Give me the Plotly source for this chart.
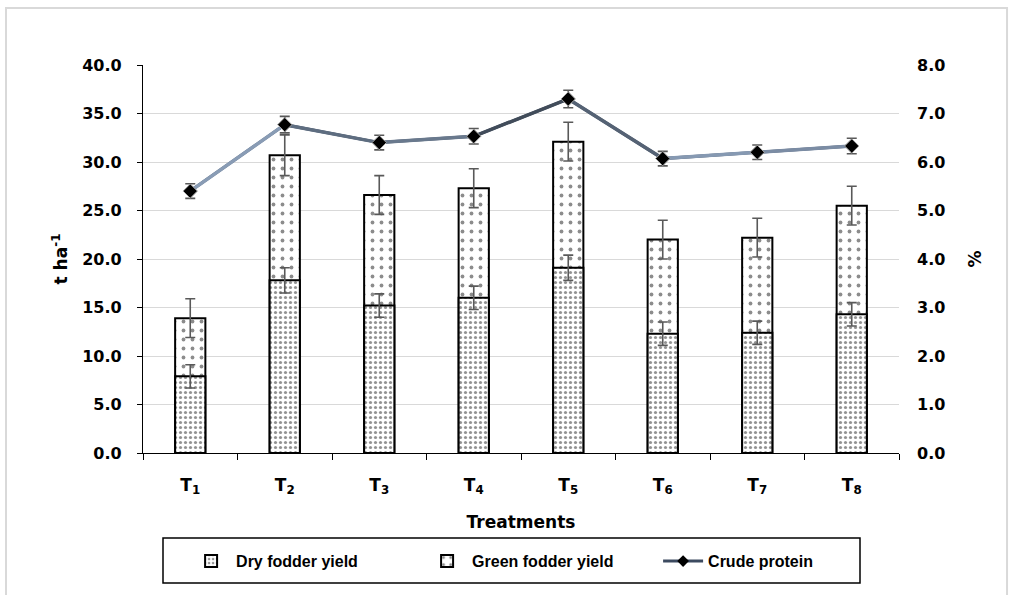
import plotly.graph_objects as go

treatments = ["T1", "T2", "T3", "T4", "T5", "T6", "T7", "T8"]
tick_labels = ["T<sub>1</sub>", "T<sub>2</sub>", "T<sub>3</sub>", "T<sub>4</sub>",
               "T<sub>5</sub>", "T<sub>6</sub>", "T<sub>7</sub>", "T<sub>8</sub>"]
green_fodder = [13.9, 30.7, 26.6, 27.3, 32.1, 22.0, 22.2, 25.5]
green_err = [2.0, 2.1, 2.0, 2.0, 2.0, 2.0, 2.0, 2.0]
dry_fodder = [7.9, 17.8, 15.2, 16.0, 19.1, 12.3, 12.4, 14.3]
dry_err = [1.2, 1.3, 1.2, 1.2, 1.3, 1.2, 1.2, 1.2]
crude_protein = [5.40, 6.77, 6.40, 6.53, 7.30, 6.07, 6.20, 6.33]
crude_err = [0.15, 0.17, 0.15, 0.16, 0.18, 0.15, 0.15, 0.16]

ARIAL = "Liberation Sans, Arial, sans-serif"
WIDE = "DejaVu Sans, Verdana, sans-serif"


def hex2rgb(h):
    h = h.lstrip("#")
    return [int(h[i:i + 2], 16) for i in (0, 2, 4)]


def lerp(c1, c2, t):
    a, b = hex2rgb(c1), hex2rgb(c2)
    return "rgb({},{},{})".format(*[round(a[i] + (b[i] - a[i]) * t) for i in range(3)])


def grad_color(v):
    lo, hi = min(crude_protein), max(crude_protein)
    t = (v - lo) / (hi - lo)
    if t < 0.4:
        return lerp("#b4c7e7", "#8497b0", t / 0.4)
    return lerp("#8497b0", "#1f252e", (t - 0.4) / 0.6)


fig = go.Figure()

fig.add_trace(go.Bar(
    x=treatments, y=green_fodder, name="Green fodder yield",
    marker=dict(color="white", line=dict(color="black", width=2),
                pattern=dict(shape=".", size=9, solidity=0.14, fgcolor="#1a1a1a", bgcolor="white")),
    error_y=dict(type="data", array=green_err, color="#595959", thickness=1.6, width=5),
    width=0.32, legendrank=2,
))
fig.add_trace(go.Bar(
    x=treatments, y=dry_fodder, name="Dry fodder yield",
    marker=dict(color="white", line=dict(color="black", width=2),
                pattern=dict(shape=".", size=5, solidity=0.32, fgcolor="#262626", bgcolor="white")),
    error_y=dict(type="data", array=dry_err, color="#595959", thickness=1.6, width=5),
    width=0.32, legendrank=1,
))

fig.add_trace(go.Scatter(
    x=treatments, y=crude_protein, yaxis="y2", name="Crude protein",
    mode="lines+markers", line=dict(color="#3c4a60", width=3),
    marker=dict(symbol="diamond", size=9, color="black"),
    legendrank=3,
))
for i in range(len(treatments) - 1):
    seg_x = treatments[i:i + 2]
    seg_y = crude_protein[i:i + 2]
    fig.add_trace(go.Scatter(
        x=seg_x, y=seg_y, yaxis="y2", mode="lines",
        line=dict(color=grad_color(sum(seg_y) / 2), width=3.5),
        showlegend=False, hoverinfo="skip",
    ))
fig.add_trace(go.Scatter(
    x=treatments, y=crude_protein, yaxis="y2", mode="markers",
    marker=dict(symbol="diamond", size=11, color="black", line=dict(color="#a6a6a6", width=1)),
    error_y=dict(type="data", array=crude_err, color="#595959", thickness=1.6, width=5),
    showlegend=False,
))

tickfont = dict(family=WIDE, size=16, color="black", weight="bold")

fig.update_layout(
    width=1014, height=595,
    margin=dict(l=143, r=115, t=65, b=142),
    paper_bgcolor="white", plot_bgcolor="white",
    barmode="overlay",
    font=dict(family=ARIAL, color="black"),
    xaxis=dict(
        type="category", tickvals=treatments, ticktext=tick_labels,
        tickson="boundaries", ticks="outside", ticklen=6, tickcolor="black",
        showline=True, linecolor="black", linewidth=1.2,
        tickfont=dict(family=WIDE, size=17, color="black", weight="bold"),
        ticklabelstandoff=16,
        title=dict(text="Treatments", font=dict(family=WIDE, size=17, color="black", weight="bold"),
                   standoff=20),
        showgrid=False,
    ),
    yaxis=dict(
        range=[0, 40], dtick=5, tickformat=".1f",
        showgrid=True, gridcolor="#d9d9d9", gridwidth=1.2,
        showline=True, linecolor="black", linewidth=1.2,
        ticks="outside", ticklen=5, tickcolor="black",
        tickfont=tickfont, zeroline=False, ticklabelstandoff=12,
        title=dict(text="t ha<sup>-1</sup>", font=dict(family=WIDE, size=17, color="black", weight="bold"),
                   standoff=10),
    ),
    yaxis2=dict(
        overlaying="y", side="right", range=[0, 8], dtick=1, tickformat=".1f",
        showgrid=False, showline=False, zeroline=False, ticks="",
        tickfont=tickfont, ticklabelstandoff=17,
        title=dict(text="%", font=dict(family=WIDE, size=17, color="black", weight="bold"),
                   standoff=24),
    ),
    legend=dict(
        orientation="h", x=0.057, xanchor="left", y=-0.235, yanchor="top",
        borderwidth=0, bgcolor="rgba(0,0,0,0)",
        font=dict(family=ARIAL, size=16, color="black", weight="bold"),
        traceorder="normal", itemwidth=40, entrywidth=181,
    ),
    shapes=[
        dict(type="rect", xref="paper", yref="paper",
             x0=-0.1812, x1=1.1429, y0=-0.45, y1=1.1469,
             line=dict(color="#d9d9d9", width=2), layer="below"),
        dict(type="rect", xref="paper", yref="paper",
             x0=(163 - 143) / 756, x1=(860 - 143) / 756,
             y0=(453 - 583) / 388, y1=(453 - 538) / 388,
             line=dict(color="black", width=1.5), fillcolor="rgba(0,0,0,0)", layer="above"),
    ],
)

fig.write_html("out.html", config={"displayModeBar": False},
               post_script="document.body.style.margin='0px';")
